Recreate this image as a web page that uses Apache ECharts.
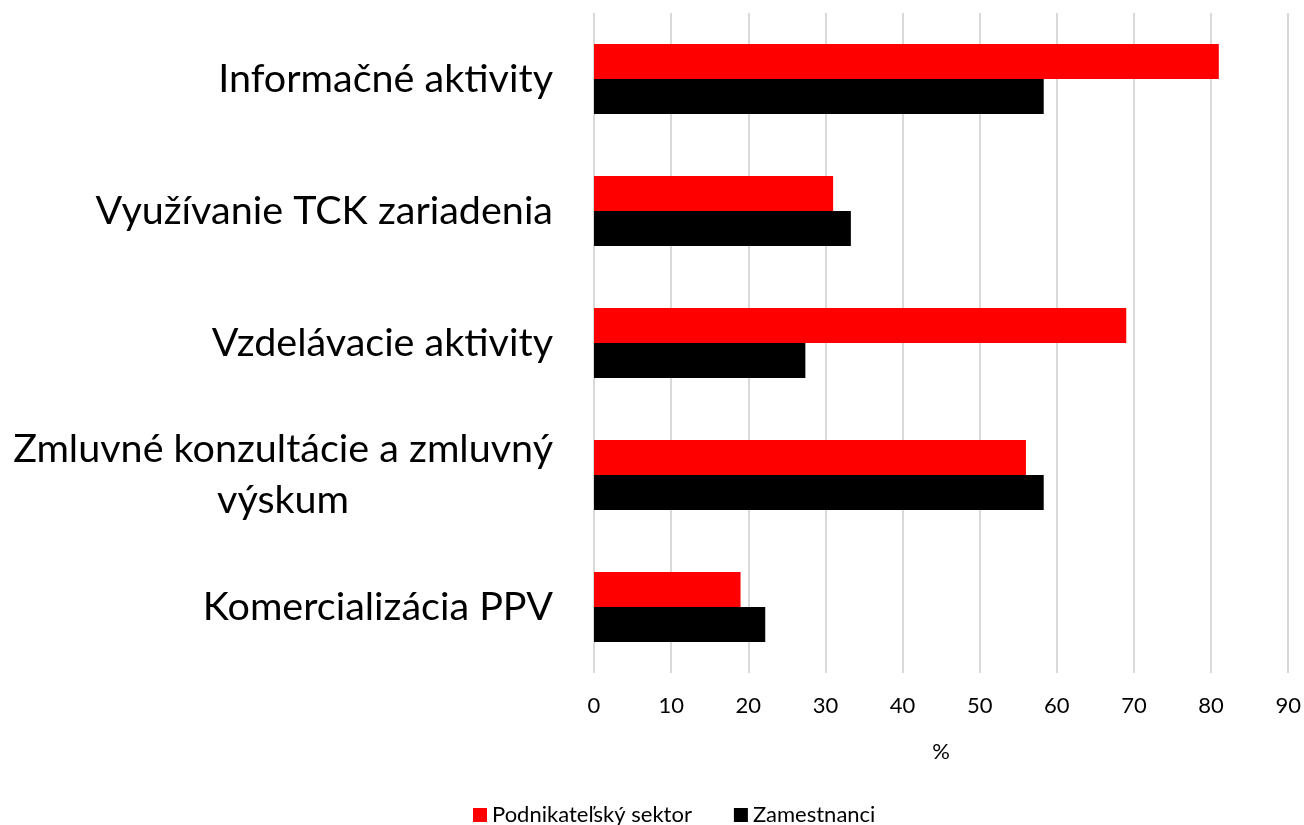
<!DOCTYPE html>
<html>
<head>
<meta charset="utf-8">
<script src="https://cdn.jsdelivr.net/npm/echarts@6/dist/echarts.min.js"></script>
<style>
html,body{margin:0;padding:0;background:#fff;}
#chart{width:1304px;height:825px;}
</style>
</head>
<body>
<div id="chart"></div>
<script>
const categories = ['Informačné aktivity', 'Využívanie TCK zariadenia', 'Vzdelávacie aktivity', 'Zmluvné konzultácie a zmluvný výskum', 'Komercializácia PPV'];
const seriesNames = ['Podnikateľský sektor', 'Zamestnanci'];
const podnikatelsky = [81, 31, 69, 56, 19];
const zamestnanci = [58.3, 33.3, 27.4, 58.3, 22.2];
const xTicks = [0, 10, 20, 30, 40, 50, 60, 70, 80, 90];

const FONT = 'Lato';
const chart = echarts.init(document.getElementById('chart'));
chart.setOption({
  animation: false,
  textStyle: { fontFamily: FONT },
  legend: {
    top: 799,
    left: 468,
    itemWidth: 14, itemHeight: 14, itemGap: 42,
    icon: 'rect',
    textStyle: { fontSize: 22, color: '#000', fontFamily: FONT },
    data: seriesNames
  },
  grid: { left: 594, right: 15, top: 13, bottom: 152, containLabel: false },
  xAxis: {
    type: 'value', min: xTicks[0], max: xTicks[xTicks.length - 1], interval: 10,
    name: '%', nameLocation: 'middle', nameGap: 68,
    nameTextStyle: { fontSize: 22, color: '#000', fontFamily: FONT },
    axisLine: { show: false }, axisTick: { show: false },
    axisLabel: { fontSize: 22, color: '#000', margin: 22, fontFamily: FONT },
    splitLine: { lineStyle: { color: '#d9d9d9', width: 2 } }
  },
  yAxis: {
    type: 'category', inverse: true, data: categories,
    axisLine: { show: false }, axisTick: { show: false },
    axisLabel: {
      fontSize: 39.5, color: '#000', margin: 41, fontFamily: FONT, lineHeight: 51,
      formatter: function (v) {
        if (v.length > 26) {
          const i = v.lastIndexOf(' ');
          return '{c|' + v.slice(0, i) + '}\n{c|' + v.slice(i + 1) + '}';
        }
        return v;
      },
      rich: { c: { align: 'center', fontSize: 39.5, lineHeight: 51, color: '#000', fontFamily: FONT } }
    }
  },
  series: [
    { name: seriesNames[0], type: 'bar', data: podnikatelsky, barCategoryGap: '47%', barGap: '0%',
      itemStyle: { color: '#ff0000' } },
    { name: seriesNames[1], type: 'bar', data: zamestnanci, barCategoryGap: '47%', barGap: '0%',
      itemStyle: { color: '#000000' } }
  ]
});
</script>
</body>
</html>
